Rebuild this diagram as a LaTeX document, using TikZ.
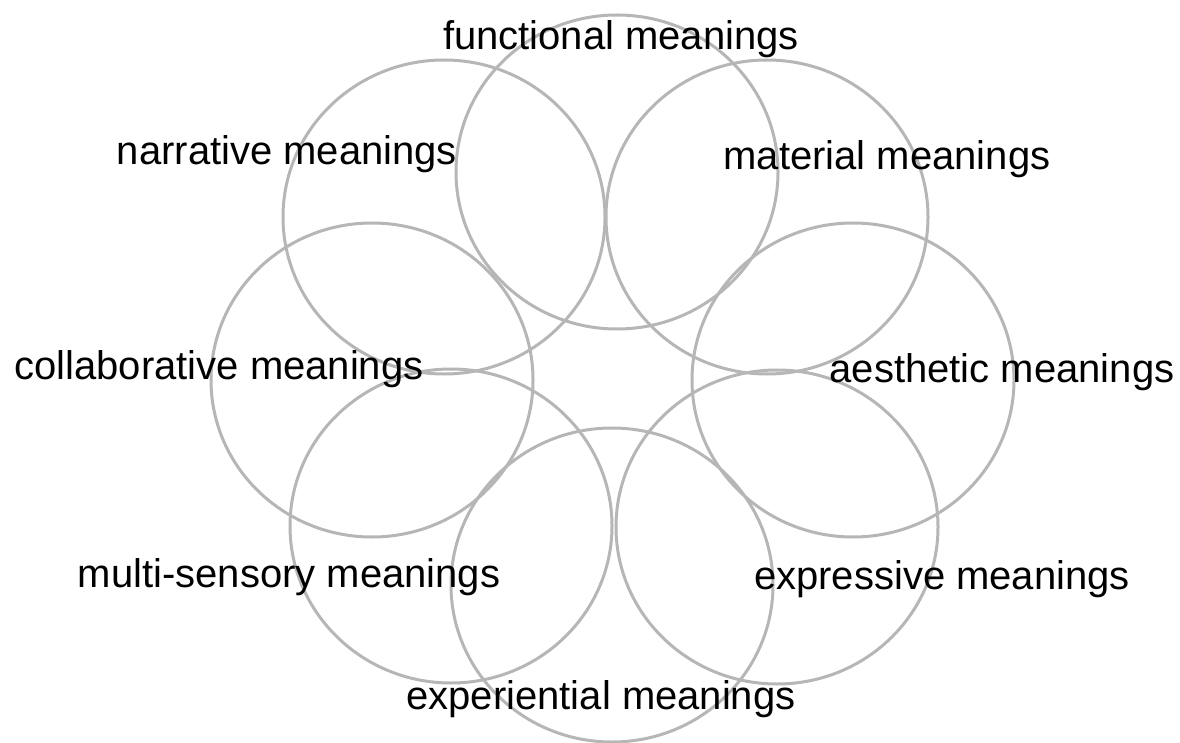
\documentclass[tikz,border=0pt]{standalone}
\usepackage{fontspec}
\setmainfont{Liberation Sans}
\usetikzlibrary{shapes.geometric}
\definecolor{ringgray}{RGB}{182,182,182}

\tikzset{
  meaning/.style={draw=ringgray,line width=3pt,ellipse,minimum width=322pt,minimum height=314pt,inner sep=0pt},
  mtext/.style={font=\fontsize{40}{48}\selectfont,inner sep=0pt,anchor=base}
}

\begin{document}
\begin{tikzpicture}[x=1pt,y=-1pt]
        \useasboundingbox (0,0) rectangle (1180,743);
        % ring of circles
        \node[meaning] (func) at (617,172) {};
        \node[meaning] (mat) at (767,217) {};
        \node[meaning] (aes) at (853,380) {};
        \node[meaning] (expr) at (777,527) {};
        \node[meaning] (expe) at (612,585) {};
        \node[meaning] (multi) at (451,526) {};
        \node[meaning] (coll) at (372,380) {};
        \node[meaning] (narr) at (444,217) {};
        % labels
        \node[mtext] (funct) at (621,50) {functional meanings};
        \node[mtext] (matt) at (887,170) {material meanings};
        \node[mtext] (aest) at (1002,382) {aesthetic meanings};
        \node[mtext] (exprt) at (942,589) {expressive meanings};
        \node[mtext] (expet) at (601,709) {experiential meanings};
        \node[mtext] (multit) at (289,587) {multi-sensory meanings};
        \node[mtext] (collt) at (219,379) {collaborative meanings};
        \node[mtext] (narrt) at (287,165) {narrative meanings};
\end{tikzpicture}
\end{document}
